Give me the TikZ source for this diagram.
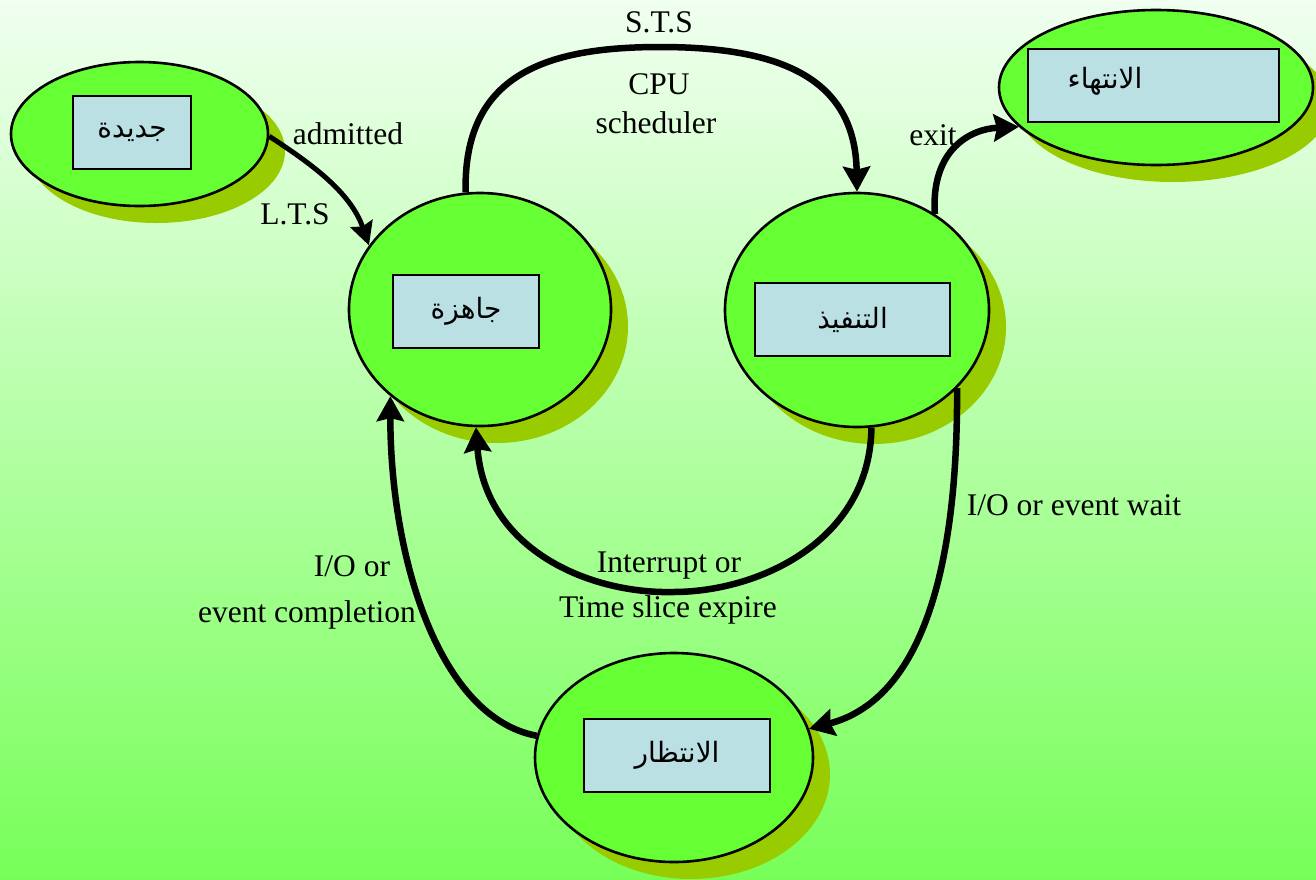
\documentclass[tikz,border=0pt]{standalone}
\usepackage{fontspec}
\setmainfont{Liberation Serif}
\newfontfamily\arabicfont[Script=Arabic]{DejaVu Sans}
\TeXXeTstate=1
\usetikzlibrary{shapes.geometric,arrows.meta,shadows}

\definecolor{stategreen}{HTML}{66FF33}
\definecolor{shadowgreen}{HTML}{99CC00}
\definecolor{boxblue}{HTML}{BBE0E3}
\definecolor{bgtop}{HTML}{F0FFF0}
\definecolor{bgmid}{HTML}{BFFFB5}
\definecolor{bgbot}{HTML}{77FF58}

\newcommand\rtltext[1]{\beginR#1\endR}

\begin{document}
\begin{tikzpicture}[x=1pt,y=-1pt,
  state/.style={ellipse, draw=black, line width=2.6pt, fill=stategreen, inner sep=0pt,
    general shadow={fill=shadowgreen, shadow xshift=17pt, shadow yshift=-17pt}},
  namebox/.style={rectangle, draw=black, line width=2.6pt, fill=boxblue, inner sep=0pt,
    font=\arabicfont\fontsize{28}{32}\selectfont},
  arlbl/.style={inner sep=0pt, font=\arabicfont\fontsize{28}{32}\selectfont},
  lbl/.style={inner sep=0pt, anchor=base, font=\fontsize{31.5}{36}\selectfont},
  conn/.style={line width=6.5pt, -{Stealth[length=25pt,width=27pt,inset=3pt]}},
  thinconn/.style={line width=5pt, -{Stealth[length=23pt,width=23pt,inset=3pt]}}
]
\useasboundingbox (0,0) rectangle (1316,879);
\fill[top color=bgtop, middle color=bgmid, bottom color=bgbot] (0,0) rectangle (1316,879);

% states
\node[state, minimum width=257pt, minimum height=144pt] (new)   at (139.5,134) {};
\node[state, minimum width=314pt, minimum height=155pt] (done)  at (1156,87.5) {};
\node[state, minimum width=262pt, minimum height=233pt] (ready) at (480,309.5) {};
\node[state, minimum width=264pt, minimum height=234pt] (run)   at (857,310) {};
\node[state, minimum width=278pt, minimum height=209pt] (wait)  at (674,757.5) {};

% name boxes
\node[namebox, minimum width=118pt, minimum height=73pt] (newbox)   at (132,132.5) {\rtltext{جديدة}};
\node[namebox, minimum width=146pt, minimum height=73pt] (readybox) at (466,311.5) {\rtltext{جاهزة}};
\node[namebox, minimum width=195pt, minimum height=73pt] (runbox)   at (852.5,319.5) {\rtltext{التنفيذ}};
\node[namebox, minimum width=186pt, minimum height=73pt] (waitbox)  at (677,755.5) {\rtltext{الانتظار}};
\node[namebox, minimum width=251pt, minimum height=73pt] (donebox)  at (1153.5,85.5) {};
\node[arlbl] (donetext) at (1105,81) {\rtltext{الانتهاء}};

% transitions
\draw[thinconn] (new.-1) .. controls +(38,25) and +(-19,-55) .. (ready.150);
\draw[conn] (ready.97) .. controls (463,75) and (545,47) .. (660,47)
            .. controls (775,47) and (855,75) .. (run.90);
\draw[conn] (run.51.7) .. controls +(-4,-65) and +(-48,2) .. (done.196.9);
\draw[conn] (run.277) .. controls (870,540) and (760,592) .. (673,592)
            .. controls (590,594) and (485,550) .. (ready.268);
\draw[conn] (run.322.6) .. controls +(1,192) and +(108,-28) .. (wait.12.5);
\draw[conn] (wait.171.9) .. controls +(-97,-18) and +(0,163) .. (ready.224.8);

% transition labels
\node[lbl] (ladm)   at (348,144) {admitted};
\node[lbl] (llts)   at (295,224) {L.T.S};
\node[lbl] (lsts)   at (659,32)  {S.T.S};
\node[lbl] (lcpu)   at (659,94)  {CPU};
\node[lbl] (lsched) at (656,133) {scheduler};
\node[lbl] (lexit)  at (933,145) {exit};
\node[lbl] (lwait)  at (1074,515) {I/O or event wait};
\node[lbl] (lio)    at (352,576) {I/O or};
\node[lbl] (lcompl) at (307,622) {event completion};
\node[lbl] (lint)   at (669,572) {Interrupt or};
\node[lbl] (lslice) at (668,617) {Time slice expire};
\end{tikzpicture}
\end{document}
